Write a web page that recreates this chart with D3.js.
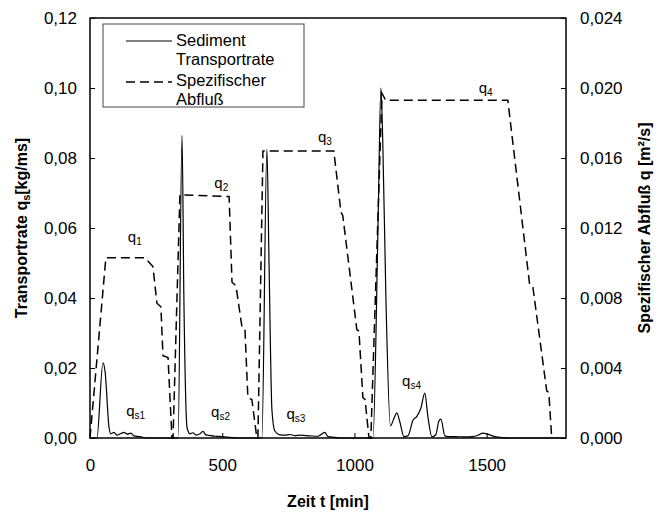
<!DOCTYPE html>
<html>
<head>
<meta charset="utf-8">
<script src="https://cdn.jsdelivr.net/npm/d3@7"></script>
<style>
  body { margin: 0; background: #fff; }
  text { font-family: "Liberation Sans", Arial, sans-serif; fill: #000; }
</style>
</head>
<body>
<svg id="chart" width="663" height="515"></svg>
<script>
// spezifischer Abfluss q [m²/s] (rechte Achse)
const qTime = [0, 60, 208, 238, 253, 268, 276, 295, 310,
  314, 340, 526, 537, 552, 575, 586, 597, 612, 631,
  635, 654, 922, 949, 956, 1009, 1017, 1032, 1040, 1055,
  1062, 1104, 1118, 1580, 1663, 1675, 1727, 1735, 1746];
const qValue = [0, 0.0103, 0.0103, 0.0098, 0.0077, 0.0075, 0.0047, 0.0046, 0,
  0, 0.0139, 0.0138, 0.0089, 0.0087, 0.0063, 0.0062, 0.0023, 0.0022, 0,
  0, 0.0164, 0.0164, 0.0129, 0.0127, 0.0062, 0.0061, 0.0023, 0.0022, 0,
  0, 0.0197, 0.0193, 0.0193, 0.0087, 0.0086, 0.0027, 0.0026, 0];

// Sediment Transportrate qs [kg/ms] (linke Achse)
const qsTime = [0, 26, 49, 57, 72, 79, 91, 102, 117, 129, 140, 155, 166, 189, 212,
  333, 348, 355, 367, 378, 389, 401, 416, 427, 438, 454, 473, 499, 529, 559,
  650, 669, 677, 688, 699, 718, 737, 756, 775, 794, 832, 862, 888, 900, 926, 945,
  1070, 1089, 1100, 1107, 1119, 1136, 1149, 1160, 1172, 1187, 1202, 1221, 1236, 1251, 1266,
  1278, 1293, 1308, 1319, 1327, 1342, 1356, 1380, 1418, 1444, 1467, 1486, 1504, 1531, 1557, 1580, 1800];
const qsValue = [0, 0, 0.0215, 0.019, 0.003, 0.0012, 0.0016, 0.0008, 0.0013, 0.0016, 0.0011, 0.0014, 0.0006, 0.0004, 0,
  0, 0.0865, 0.04, 0.003, 0.0012, 0.0015, 0.0008, 0.0012, 0.0019, 0.0009, 0.0007, 0.0005, 0.0004, 0.0002, 0,
  0, 0.0825, 0.05, 0.008, 0.002, 0.0009, 0.0008, 0.001, 0.0007, 0.0008, 0.0006, 0.0005, 0.0016, 0.0004, 0.0002, 0,
  0, 0.06, 0.1, 0.085, 0.04, 0.0035, 0.0055, 0.0072, 0.0045, 0.0004, 0.0006, 0.005, 0.0062, 0.0085, 0.0128,
  0.006, 0.0003, 0.001, 0.0048, 0.0054, 0.0006, 0.0004, 0.0004, 0.0003, 0.0004, 0.0008, 0.0014, 0.0011, 0.0004, 0.0001, 0, 0];

const xTicks = [0, 500, 1000, 1500];
const yLeftTicks = [0, 0.02, 0.04, 0.06, 0.08, 0.10, 0.12];
const yRightTicks = [0, 0.004, 0.008, 0.012, 0.016, 0.020, 0.024];

const qLabels = [
  { t: 143, v: 0.0112, main: "q", sub: "1" },
  { t: 470, v: 0.0143, main: "q", sub: "2" },
  { t: 862, v: 0.0169, main: "q", sub: "3" },
  { t: 1470, v: 0.0197, main: "q", sub: "4" }
];
const qsLabels = [
  { t: 137, v: 0.0064, main: "q", sub: "s1" },
  { t: 458, v: 0.0060, main: "q", sub: "s2" },
  { t: 743, v: 0.0053, main: "q", sub: "s3" },
  { t: 1180, v: 0.0150, main: "q", sub: "s4" }
];

const svg = d3.select("#chart");
const mLeft = 90, mRight = 566, mTop = 18, mBottom = 438;

const x = d3.scaleLinear().domain([0, 1800]).range([mLeft, mRight]);
const yL = d3.scaleLinear().domain([0, 0.12]).range([mBottom, mTop]);
const yR = d3.scaleLinear().domain([0, 0.024]).range([mBottom, mTop]);

const fmt = (d, n) => d.toFixed(n).replace(".", ",");

// Achsen
svg.append("g")
  .attr("transform", `translate(0,${mBottom})`)
  .call(d3.axisBottom(x).tickValues(xTicks).tickSizeInner(-5).tickSizeOuter(0).tickPadding(21).tickFormat(d => d))
  .call(g => g.select(".domain").remove())
  .call(g => g.selectAll("text").attr("font-size", 17));

svg.append("g")
  .attr("transform", `translate(${mLeft},0)`)
  .call(d3.axisLeft(yL).tickValues(yLeftTicks).tickSizeInner(-5).tickSizeOuter(0).tickPadding(13).tickFormat(d => fmt(d, 2)))
  .call(g => g.select(".domain").remove())
  .call(g => g.selectAll("text").attr("font-size", 17));

svg.append("g")
  .attr("transform", `translate(${mRight},0)`)
  .call(d3.axisRight(yR).tickValues(yRightTicks).tickSizeInner(-5).tickSizeOuter(0).tickPadding(14).tickFormat(d => fmt(d, 3)))
  .call(g => g.select(".domain").remove())
  .call(g => g.selectAll("text").attr("font-size", 17));

// Linien
const qLine = d3.line().x(d => x(d[0])).y(d => yR(d[1]));
const qsLine = d3.line().x(d => x(d[0])).y(d => yL(d[1])).curve(d3.curveMonotoneX);

svg.append("path")
  .datum(d3.zip(qTime, qValue))
  .attr("d", qLine)
  .attr("fill", "none")
  .attr("stroke", "#000")
  .attr("stroke-width", 1.5)
  .attr("stroke-dasharray", "9,5");

svg.append("path")
  .datum(d3.zip(qsTime, qsValue))
  .attr("d", qsLine)
  .attr("fill", "none")
  .attr("stroke", "#000")
  .attr("stroke-width", 1.2);

// Rahmen
svg.append("rect")
  .attr("x", mLeft).attr("y", mTop)
  .attr("width", mRight - mLeft).attr("height", mBottom - mTop)
  .attr("fill", "none").attr("stroke", "#000").attr("stroke-width", 1.5);

// Beschriftungen der Kurven
function addLabel(d, yScale) {
  const t = svg.append("text")
    .attr("x", x(d.t)).attr("y", yScale(d.v))
    .attr("font-size", 15);
  t.append("tspan").text(d.main);
  t.append("tspan").attr("font-size", 10).attr("dy", 3).text(d.sub);
}
qLabels.forEach(d => addLabel(d, yR));
qsLabels.forEach(d => addLabel(d, yL));

// Achsentitel
svg.append("text")
  .attr("x", (mLeft + mRight) / 2).attr("y", 507)
  .attr("text-anchor", "middle").attr("font-size", 16).attr("font-weight", "bold")
  .text("Zeit t [min]");

const lt = svg.append("text")
  .attr("transform", `translate(27,${(mTop + mBottom) / 2}) rotate(-90)`)
  .attr("text-anchor", "middle").attr("font-size", 16).attr("font-weight", "bold");
lt.append("tspan").text("Transportrate q");
lt.append("tspan").attr("font-size", 11).attr("dy", 3).text("s");
lt.append("tspan").attr("dy", -3).text("[kg/ms]");

svg.append("text")
  .attr("transform", `translate(650,${(mTop + mBottom) / 2}) rotate(-90)`)
  .attr("text-anchor", "middle").attr("font-size", 16).attr("font-weight", "bold")
  .text("Spezifischer Abfluß q [m²/s]");

// Legende
const lg = svg.append("g");
lg.append("rect")
  .attr("x", 103).attr("y", 24).attr("width", 201).attr("height", 83)
  .attr("fill", "#fff").attr("stroke", "#444").attr("stroke-width", 1);
lg.append("line").attr("x1", 126).attr("x2", 172).attr("y1", 41).attr("y2", 41)
  .attr("stroke", "#000").attr("stroke-width", 1.2);
lg.append("line").attr("x1", 126).attr("x2", 172).attr("y1", 82).attr("y2", 82)
  .attr("stroke", "#000").attr("stroke-width", 1.5).attr("stroke-dasharray", "9,5");
[["Sediment", 46], ["Transportrate", 65], ["Spezifischer", 86], ["Abfluß", 105]].forEach(([s, yy]) => {
  lg.append("text").attr("x", 176).attr("y", yy).attr("font-size", 16.5).text(s);
});
</script>
</body>
</html>
